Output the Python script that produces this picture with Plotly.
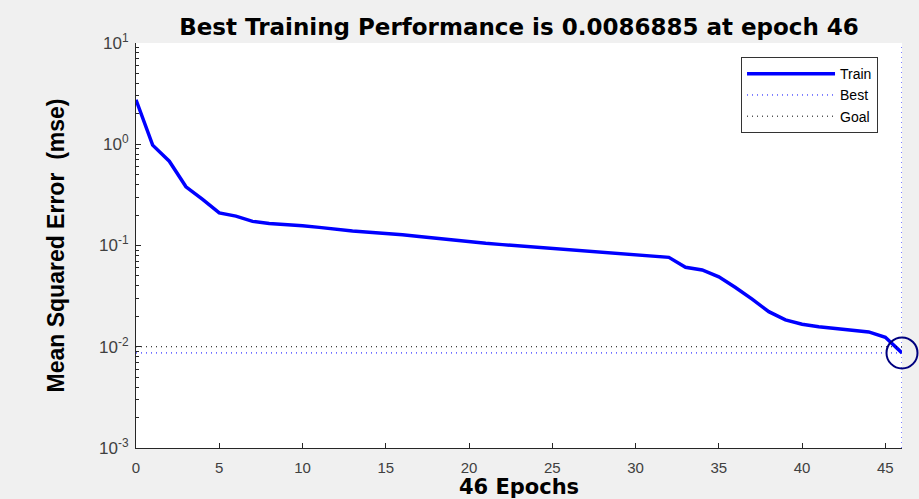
import plotly.graph_objects as go

# Training record of the network (mean squared error per epoch)
epochs = list(range(47))
train_mse = [
    2.75, 0.98, 0.68, 0.38, 0.285, 0.21, 0.195, 0.173, 0.165, 0.162,
    0.157, 0.151, 0.144, 0.139, 0.135, 0.132, 0.128, 0.123, 0.118, 0.113,
    0.108, 0.105, 0.102, 0.099, 0.096, 0.0925, 0.090, 0.087, 0.0845, 0.082,
    0.0795, 0.0775, 0.0764, 0.061, 0.0573, 0.049, 0.0385, 0.0295, 0.0222, 0.0184,
    0.0167, 0.0158, 0.0152, 0.0146, 0.0140, 0.0124, 0.0086885,
]
best_epoch = 46
best_perf = 0.0086885
goal = 0.01

x_ticks = [0, 5, 10, 15, 20, 25, 30, 35, 40, 45]
y_limits = [1e-3, 1e1]
y_ticks = [1e-3, 1e-2, 1e-1, 1e0, 1e1]
y_tick_text = ["10<sup>-3</sup>", "10<sup>-2</sup>", "10<sup>-1</sup>",
               "10<sup>0</sup>", "10<sup>1</sup>"]
# minor ticks at 2..9 within every decade of the y range
y_minor = [m * d for d in y_ticks[:-1] for m in range(2, 10)]

title_text = f"Best Training Performance is {best_perf} at epoch {best_epoch}"
x_label = f"{len(epochs) - 1} Epochs"
y_label = "Mean Squared Error\u00a0 (mse)"

dots = "1px,4px"
tick_font = dict(family="Liberation Sans, Arial, sans-serif", size=15, color="#404040")
label_font = dict(family="DejaVu Sans, sans-serif", size=23, color="#000000")

fig = go.Figure()

fig.add_trace(go.Scatter(
    x=epochs, y=train_mse, mode="lines", name="Train",
    line=dict(color="#0000ff", width=3.5),
))
fig.add_trace(go.Scatter(
    x=[epochs[0], best_epoch, None, best_epoch, best_epoch],
    y=[best_perf, best_perf, None, y_limits[0], y_limits[1]],
    mode="lines", name="Best",
    line=dict(color="#0000ff", width=1, dash=dots),
))
fig.add_trace(go.Scatter(
    x=[epochs[0], epochs[-1]], y=[goal, goal],
    mode="lines", name="Goal",
    line=dict(color="#000000", width=1, dash=dots),
))
fig.add_trace(go.Scatter(
    x=[best_epoch], y=[best_perf], mode="markers", showlegend=False,
    cliponaxis=False,
    marker=dict(symbol="circle-open", size=31, color="#00007f",
                line=dict(width=2, color="#00007f")),
))

fig.update_layout(
    width=919, height=499,
    margin=dict(l=136, r=17, t=43, b=51),
    paper_bgcolor="#f0f0f0",
    plot_bgcolor="#ffffff",
    title=dict(text=f"<b>{title_text}</b>", font=label_font,
               x=0.5, xref="paper", xanchor="center",
               y=1 - 27 / 499, yref="container", yanchor="middle"),
    legend=dict(
        x=0.9687, y=0.965, xanchor="right", yanchor="top",
        bgcolor="#ffffff", bordercolor="#333333", borderwidth=1,
        font=dict(family="Liberation Sans, Arial, sans-serif", size=14, color="#000000"),
        tracegroupgap=0, itemwidth=88,
    ),
    showlegend=True,
)

fig.update_xaxes(
    range=[epochs[0], epochs[-1]], automargin=False,
    tickvals=x_ticks, ticks="inside", ticklen=5, tickcolor="#262626",
    showline=True, linecolor="#262626", linewidth=1,
    showgrid=False, zeroline=False, mirror=False,
    tickfont=tick_font, ticklabelstandoff=6,
    title=dict(text=f"<b>{x_label}</b>",
               font=dict(family="DejaVu Sans, sans-serif", size=21, color="#000000"),
               standoff=11),
)
fig.update_yaxes(
    type="log", range=[-3, 1], automargin=False,
    tickvals=y_ticks, ticktext=y_tick_text,
    ticks="inside", ticklen=5, tickcolor="#262626",
    minor=dict(tickmode="array", tickvals=y_minor, ticks="inside", ticklen=3,
               tickcolor="#262626", showgrid=False),
    showline=True, linecolor="#262626", linewidth=1,
    showgrid=False, zeroline=False, mirror=False,
    tickfont=dict(family="Liberation Sans, Arial, sans-serif", size=17, color="#404040"),
    ticklabelstandoff=3,
    title=dict(text=f"<b>{y_label}</b>",
               font=dict(family="Liberation Sans, Arial, sans-serif", size=23, color="#000000"),
               standoff=28),
)

fig.write_html("out.html")
